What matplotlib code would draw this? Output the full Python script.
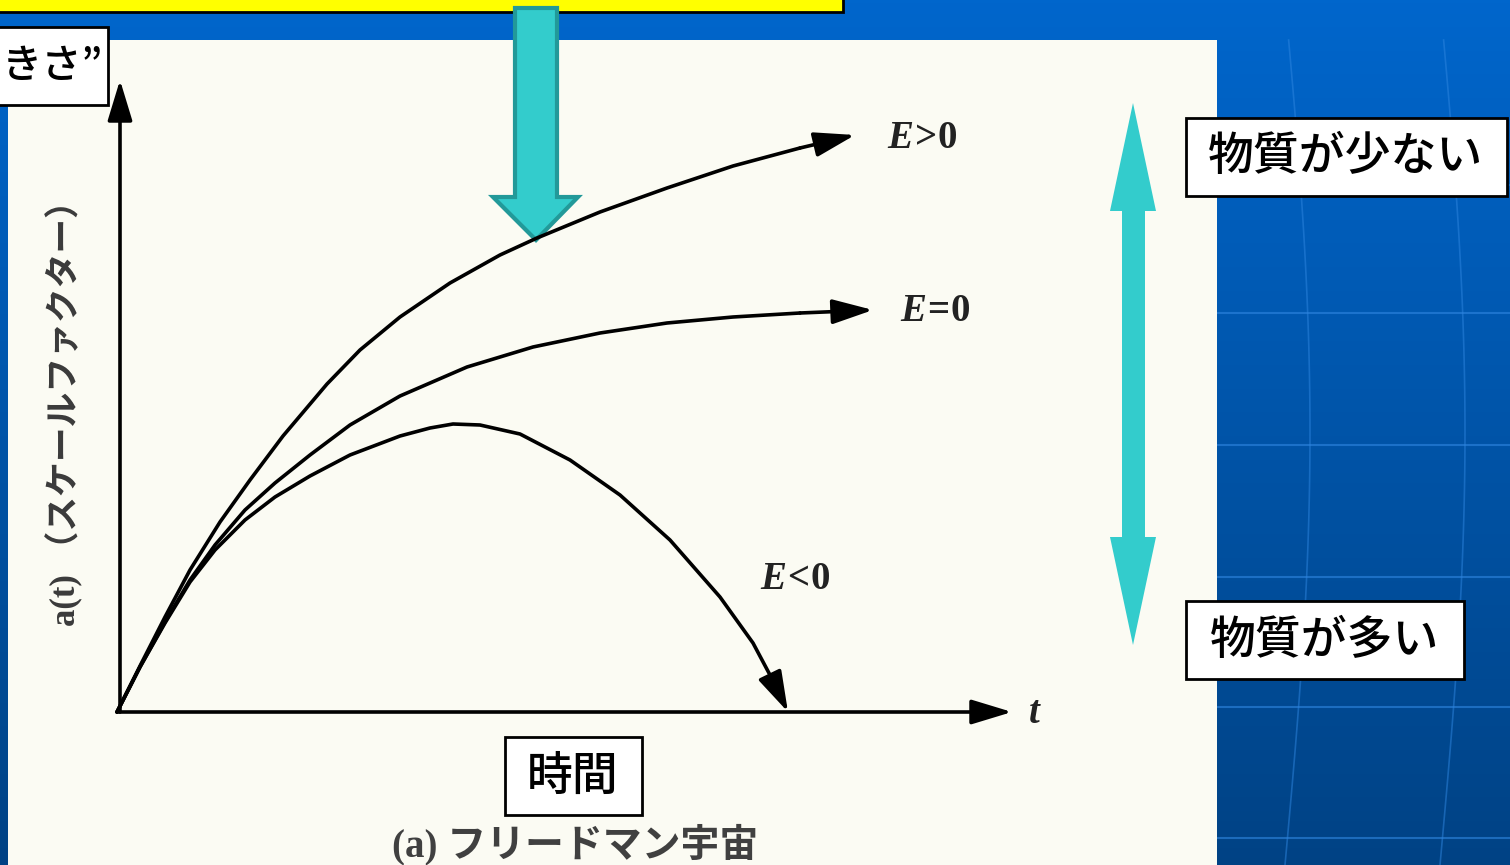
import numpy as np
import matplotlib
matplotlib.use("Agg")
import matplotlib.pyplot as plt
from matplotlib.patches import Rectangle, Polygon

plt.rcParams["font.family"] = ["Noto Sans CJK JP", "DejaVu Sans"]
plt.rcParams["mathtext.fontset"] = "custom"
plt.rcParams["mathtext.it"] = "Liberation Serif:italic:bold"
plt.rcParams["mathtext.rm"] = "Liberation Serif:bold"

# scale factor a(t) (arbitrary units)
t_open = [0, 23, 48, 73, 103, 133, 166, 210, 243, 283, 333, 383, 420, 483, 550, 616, 683, 738]
a_open = [0, 46, 95, 142, 190, 232, 276, 328, 362, 395, 429, 457, 474, 500, 524, 546, 564, 577]

t_flat = [0, 23, 48, 73, 98, 128, 158, 193, 233, 283, 350, 416, 483, 550, 616, 683, 756]
a_flat = [0, 45, 90, 132, 167, 202, 229, 257, 287, 316, 345, 365, 379, 389, 395, 399, 402]

t_closed = [0, 23, 48, 73, 98, 128, 158, 193, 233, 283, 313, 336, 363, 403, 453, 503, 553,
            603, 636, 653, 671]
a_closed = [0, 45, 89, 130, 162, 192, 215, 236, 257, 276, 284, 288, 287, 278, 252, 217, 172,
            115, 69, 37, 0]

curve_labels = [r"$E\!>\!0$", r"$E\!=\!0$", r"$E\!<\!0$"]

W, H = 1510, 865
fig = plt.figure(figsize=(W / 100, H / 100), dpi=100)

# slide background in pixel coordinates
bg = fig.add_axes([0, 0, 1, 1])
bg.set_xlim(0, W)
bg.set_ylim(H, 0)
bg.axis("off")
grad = np.linspace(0, 1, 256)[:, None]
top = np.array([0.0, 0.40, 0.80])
bot = np.array([0.0, 0.26, 0.52])
img = top + (bot - top) * grad[..., None]
bg.imshow(img, extent=[0, W, H, 0], aspect="auto", zorder=0)
for y in [185, 313, 445, 577, 707, 838]:
    bg.plot([1217, W], [y, y], color="#2f86e0", lw=1.5, alpha=0.6, zorder=1)
for x0 in [1285, 1440]:
    yy = np.linspace(40, H, 60)
    bg.plot(x0 + 25 * np.sin(yy / H * np.pi), yy, color="#2f86e0", lw=1.2, alpha=0.5, zorder=1)

# yellow title bar and scanned page
bg.add_patch(Rectangle((-5, -5), 848, 17, facecolor="#ffff00", edgecolor="black", lw=2, zorder=2))
bg.add_patch(Rectangle((8, 40), 1209, 830, facecolor="#fbfbf3", edgecolor="none", zorder=2))

# diagram axes: origin at the scanned figure's corner
ax = fig.add_axes([117 / W, (H - 712) / H, 875 / W, 600 / H])
ax.set_xlim(0, 875)
ax.set_ylim(0, 600)
ax.axis("off")
ax.patch.set_alpha(0)

arrow_kw = dict(arrowstyle="-|>,head_length=1.25,head_width=0.38", color="black", lw=2.6,
                shrinkA=0, shrinkB=0, mutation_scale=20)
ax.annotate("", xy=(895, 0), xytext=(0, 0), arrowprops=arrow_kw, annotation_clip=False)
ax.annotate("", xy=(3, 632), xytext=(3, 0), arrowprops=arrow_kw, annotation_clip=False)

for ts, as_ in [(t_open, a_open), (t_flat, a_flat), (t_closed, a_closed)]:
    ax.plot(ts[:-1], as_[:-1], color="black", lw=2.6, solid_joinstyle="round",
            solid_capstyle="round", clip_on=False)
    ax.annotate("", xy=(ts[-1], as_[-1]), xytext=(ts[-2], as_[-2]),
                arrowprops=arrow_kw, annotation_clip=False)

ax.text(805, 575, curve_labels[0], fontsize=28, color="#222222", ha="center", va="center")
ax.text(818, 402, curve_labels[1], fontsize=28, color="#222222", ha="center", va="center")
ax.text(678, 134, curve_labels[2], fontsize=28, color="#222222", ha="center", va="center")
ax.text(918, 0, r"$t$", fontsize=28, color="#222222", ha="center", va="center")

fig.text(65 / W, 1 - 405 / H, "a(t) （スケールファクター）", rotation=90, fontsize=25,
         color="#3a3a3a", ha="center", va="center", weight="bold",
         family=["Liberation Serif", "Noto Sans CJK JP"])
fig.text(575 / W, 1 - 845 / H, "(a) フリードマン宇宙", fontsize=28, color="#404040",
         ha="center", va="center", weight="bold",
         family=["Liberation Serif", "Noto Sans CJK JP"])

# cyan arrows
bg.add_patch(Polygon([(515, 8), (557, 8), (557, 197), (578, 197), (536, 240),
                      (493, 197), (515, 197)], closed=True, facecolor="#33cccc",
                     edgecolor="#229999", lw=3, zorder=5))
bg.add_patch(Polygon([(1133, 103), (1156, 211), (1145, 211), (1145, 537), (1156, 537),
                      (1133, 645), (1110, 537), (1122, 537), (1122, 211), (1110, 211)],
                     closed=True, facecolor="#33cccc", edgecolor="none", zorder=5))

# white label boxes
boxes = [((-5, 27), 113, 78, "きさ”", 52, 29),
         ((505, 737), 137, 78, "時間", 573, 33),
         ((1186, 118), 321, 78, "物質が少ない", 1346, 33),
         ((1186, 601), 278, 78, "物質が多い", 1325, 33)]
for (x, y), w, h, label, cx, fs in boxes:
    bg.add_patch(Rectangle((x, y), w, h, facecolor="white", edgecolor="black", lw=2, zorder=6))
    bg.text(cx, y + h / 2, label, fontsize=fs, color="black", ha="center", va="center",
            zorder=7, weight="medium", family=["Noto Sans CJK JP", "DejaVu Sans"])

fig.savefig("out.png", dpi=100)
